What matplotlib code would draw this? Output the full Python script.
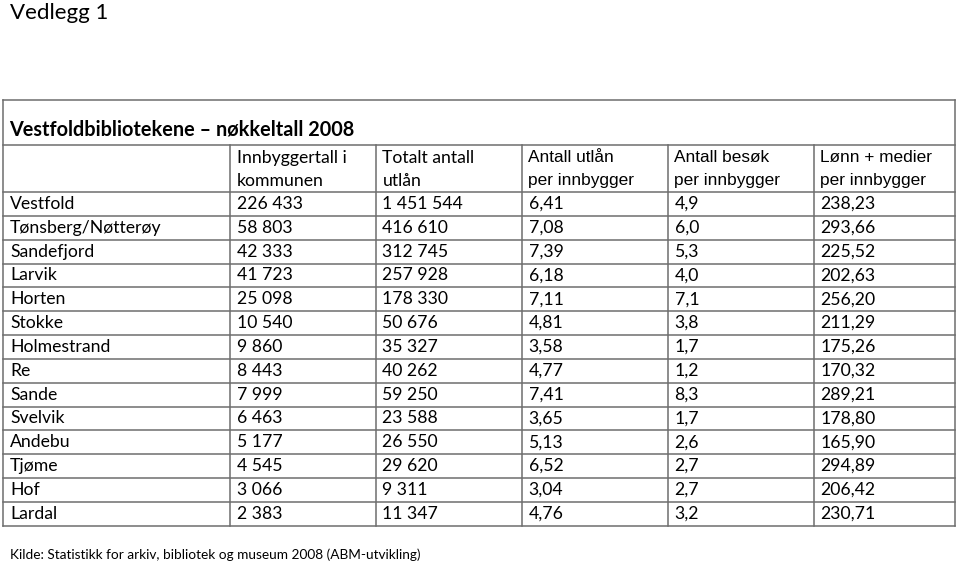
import matplotlib
matplotlib.use("Agg")
import matplotlib.pyplot as plt

page_title = "Vedlegg 1"
table_title = "Vestfoldbibliotekene \u2013 n\u00f8kkeltall 2008"
headers = ["", "Innbyggertall i\nkommunen", "Totalt antall\nutl\u00e5n",
           "Antall utl\u00e5n\nper innbygger", "Antall bes\u00f8k\nper innbygger",
           "L\u00f8nn + medier\nper innbygger"]
kommuner = ["Vestfold", "T\u00f8nsberg/N\u00f8tter\u00f8y", "Sandefjord", "Larvik", "Horten",
            "Stokke", "Holmestrand", "Re", "Sande", "Svelvik", "Andebu", "Tj\u00f8me",
            "Hof", "Lardal"]
innbyggere = ["226 433", "58 803", "42 333", "41 723", "25 098", "10 540", "9 860",
              "8 443", "7 999", "6 463", "5 177", "4 545", "3 066", "2 383"]
utlan = ["1 451 544", "416 610", "312 745", "257 928", "178 330", "50 676", "35 327",
         "40 262", "59 250", "23 588", "26 550", "29 620", "9 311", "11 347"]
utlan_per = ["6,41", "7,08", "7,39", "6,18", "7,11", "4,81", "3,58", "4,77", "7,41",
             "3,65", "5,13", "6,52", "3,04", "4,76"]
besok_per = ["4,9", "6,0", "5,3", "4,0", "7,1", "3,8", "1,7", "1,2", "8,3", "1,7",
             "2,6", "2,7", "2,7", "3,2"]
lonn_per = ["238,23", "293,66", "225,52", "202,63", "256,20", "211,29", "175,26",
            "170,32", "289,21", "178,80", "165,90", "294,89", "206,42", "230,71"]
source = "Kilde: Statistikk for arkiv, bibliotek og museum 2008 (ABM-utvikling)"

W, H = 960, 567
fig = plt.figure(figsize=(W / 100, H / 100), dpi=100)
ax = fig.add_axes([0, 0, 1, 1])
ax.set_xlim(0, W)
ax.set_ylim(H, 0)
ax.axis("off")

font = ["Lato", "DejaVu Sans"]
hfont = ["Liberation Sans", "DejaVu Sans"]
lc = "#6e6e6e"
lw = 1.1

col_x = [3, 230, 375.5, 521.5, 667.5, 813.5, 955]
top, title_bot, head_bot = 100, 144.5, 192
row_h = (525.7 - head_bot) / len(kommuner)

# borders
ax.plot([col_x[0], col_x[-1]], [top, top], color=lc, lw=lw)
for y in [title_bot, head_bot] + [head_bot + row_h * (i + 1) for i in range(len(kommuner))]:
    ax.plot([col_x[0], col_x[-1]], [y, y], color=lc, lw=lw)
bottom = head_bot + row_h * len(kommuner)
ax.plot([col_x[0]] * 2, [top, bottom], color=lc, lw=lw)
ax.plot([col_x[-1]] * 2, [top, bottom], color=lc, lw=lw)
for x in col_x[1:-1]:
    ax.plot([x, x], [title_bot, bottom], color=lc, lw=lw)

ax.text(10, 13, page_title, fontsize=16, family=font, va="center", ha="left")
ax.text(9, 129, table_title, fontsize=14.3, family=font, fontweight="bold",
        va="center", ha="left")

for j, h in enumerate(headers):
    if not h:
        continue
    fam = font if j < 3 else hfont
    size = 12.7 if j < 3 else 12.4
    for k, line in enumerate(h.split("\n")):
        ax.text(col_x[j] + 7, 158 + k * 22.5, line, fontsize=size, family=fam,
                va="center", ha="left")

columns = [kommuner, innbyggere, utlan, utlan_per, besok_per, lonn_per]
for j, col in enumerate(columns):
    for i, val in enumerate(col):
        y = head_bot + row_h * (i + 0.5)
        ax.text(col_x[j] + 7, y, val, fontsize=12.7, family=font,
                va="center", ha="left")

ax.text(10, 555, source, fontsize=9.8, family=font, va="center", ha="left")

fig.savefig("out.png", dpi=100)
